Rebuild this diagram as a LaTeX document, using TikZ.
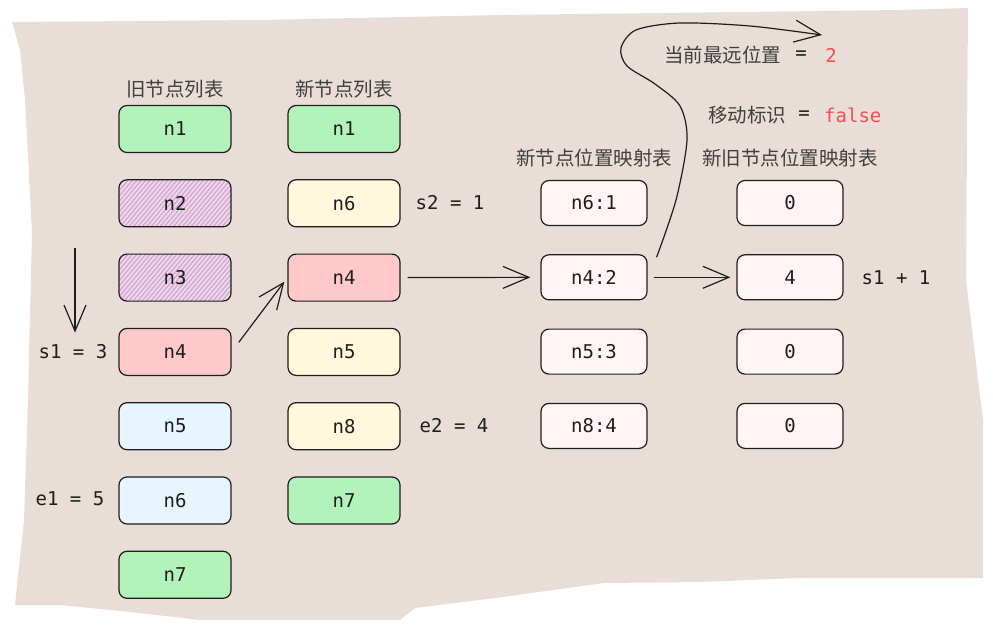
\documentclass[tikz,border=0pt]{standalone}
\usepackage{fontspec}
\setmonofont{DejaVu Sans Mono}
\newfontfamily\cjk{Noto Sans CJK SC}
\usetikzlibrary{arrows.meta, patterns.meta, positioning}
\definecolor{paper}{RGB}{233,221,216}
\definecolor{ink}{RGB}{30,30,30}
\definecolor{keepgreen}{RGB}{178,242,187}
\definecolor{movered}{RGB}{255,201,201}
\definecolor{newyellow}{RGB}{255,248,220}
\definecolor{oldblue}{RGB}{231,245,255}
\definecolor{mapfill}{RGB}{255,245,244}
\definecolor{hatchpurple}{RGB}{218,150,240}
\definecolor{flagred}{RGB}{245,80,80}
\tikzset{
  vnode/.style={rectangle, draw=ink, line width=1.2pt, rounded corners=8pt,
    minimum width=112pt, minimum height=47pt, inner sep=0pt,
    font=\ttfamily\fontsize{19}{19}\selectfont, text=ink},
  keep/.style={vnode, fill=keepgreen},
  moved/.style={vnode, fill=movered},
  fresh/.style={vnode, fill=newyellow},
  rest/.style={vnode, fill=oldblue},
  gone/.style={vnode, pattern={Lines[angle=50,distance=3.4pt,line width=1.1pt]},
    pattern color=hatchpurple},
  slot/.style={vnode, fill=mapfill, minimum width=106pt, minimum height=45pt},
  cnlbl/.style={font=\cjk\fontsize{19.5}{20}\selectfont, text=ink!85, inner sep=0pt},
  vlbl/.style={font=\ttfamily\fontsize{19}{19}\selectfont, text=ink, inner sep=0pt},
  arrow/.style={-{Straight Barb[length=26pt,width=22pt,line width=1.2pt]},
    line width=1.2pt, draw=ink}
}
\begin{document}
\begin{tikzpicture}[x=1pt, y=-1pt]
  \useasboundingbox (0,0) rectangle (993,629);
  % torn paper background
  \fill[paper] (12,22) -- (260,20) -- (500,15) -- (900,10) -- (968,8) -- (966,280)
    -- (983,420) -- (983,578) -- (800,578) -- (700,582) -- (604,583) -- (503,597)
    -- (415,608) -- (400,620) -- (200,620) -- (130,612) -- (60,605) -- (15,605)
    -- (24,520) -- (28,400) -- (32,232) -- (25,100) -- (20,50) -- cycle;

  % old and new child lists
  \node[cnlbl] (oldhead) at (175,89) {旧节点列表};
  \node[cnlbl] (newhead) at (344,89) {新节点列表};
  \foreach \nm/\st [count=\i] in {n1/keep, n2/gone, n3/gone, n4/moved, n5/rest, n6/rest, n7/keep}
    \node[\st] (o\i) at (175,{129+74.3*(\i-1)}) {\nm};
  \foreach \nm/\st [count=\i] in {n1/keep, n6/fresh, n4/moved, n5/fresh, n8/fresh, n7/keep}
    \node[\st] (n\i) at (344,{129+74.3*(\i-1)}) {\nm};

  % index maps
  \node[cnlbl] (maphead) at (594,158) {新节点位置映射表};
  \node[cnlbl] (idxhead) at (790,158) {新旧节点位置映射表};
  \foreach \kv [count=\i] in {n6:1, n4:2, n5:3, n8:4}
    \node[slot] (m\i) at (594,{203+74.3*(\i-1)}) {\kv};
  \foreach \v [count=\i] in {0, 4, 0, 0}
    \node[slot] (v\i) at (790,{203+74.3*(\i-1)}) {\v};

  % pointers and flags
  \node[vlbl] (s2lbl) at (450,203) {s2 = 1};
  \node[vlbl] (e2lbl) at (454,426) {e2 = 4};
  \node[vlbl] (s1lbl) at (73,352) {s1 = 3};
  \node[vlbl] (e1lbl) at (70,499) {e1 = 5};
  \node[vlbl] (inclbl) at (896,278) {s1 + 1};
  \node[cnlbl, anchor=west] (farlbl) at (664,55) {当前最远位置};
  \node[vlbl] (fareq) at (801,55) {=};
  \node[vlbl, text=flagred] (farval) at (831,55) {2};
  \node[cnlbl, anchor=west] (movelbl) at (708,115) {移动标识};
  \node[vlbl] (moveeq) at (804,115) {=};
  \node[vlbl, text=flagred, anchor=west] (moveval) at (824,115) {false};

  % arrows
  \coordinate (s1from) at (75,248);
  \coordinate (fartip) at (822,35);
  \draw[arrow, shorten >=12pt] (s1from) -- (s1lbl.north -| s1from);
  \draw[arrow, shorten <=12pt, shorten >=5pt] (o4.east) -- (n3.west);
  \draw[arrow, shorten <=7pt, shorten >=10pt] (n3.east) -- (m2.west);
  \draw[arrow, shorten <=6pt, shorten >=6pt] (m2.east) -- (v2.west);
  \draw[arrow] plot[smooth, tension=0.5] coordinates {([xshift=9pt, yshift=-3pt]m2.north east)
    (676,200) (687,140) (680,106) (655,84) (627,66) (621,48) (636,30) (680,23) (750,26) (fartip)};
\end{tikzpicture}
\end{document}
